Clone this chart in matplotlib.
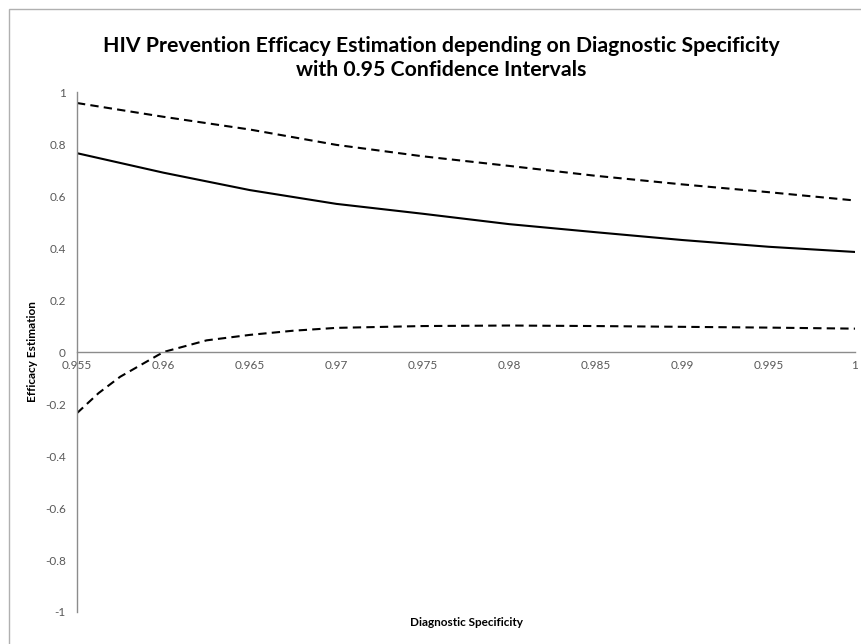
import matplotlib
matplotlib.use("Agg")
import matplotlib.pyplot as plt
from matplotlib.patches import Rectangle

plt.rcParams["font.family"] = ["Lato", "DejaVu Sans"]

# specificity (x) and efficacy estimate with 0.95 CI
spec = [0.955, 0.96, 0.965, 0.97, 0.975, 0.98, 0.985, 0.99, 0.995, 1.0]
efficacy = [0.765, 0.690, 0.623, 0.570, 0.532, 0.492, 0.461, 0.431, 0.405, 0.385]
upper_ci = [0.958, 0.905, 0.856, 0.797, 0.753, 0.716, 0.678, 0.645, 0.615, 0.583]

spec_low = [0.955, 0.95625, 0.9575, 0.96, 0.9625, 0.965, 0.9675, 0.97, 0.975,
            0.98, 0.985, 0.99, 0.995, 1.0]
lower_ci = [-0.235, -0.158, -0.095, 0.0, 0.045, 0.066, 0.082, 0.093, 0.100,
            0.102, 0.100, 0.097, 0.094, 0.090]

xticks = [0.955, 0.96, 0.965, 0.97, 0.975, 0.98, 0.985, 0.99, 0.995, 1]
xlabels = ["0.955", "0.96", "0.965", "0.97", "0.975", "0.98", "0.985", "0.99", "0.995", "1"]
yticks = [-1, -0.8, -0.6, -0.4, -0.2, 0, 0.2, 0.4, 0.6, 0.8, 1]
ylabels = ["-1", "-0.8", "-0.6", "-0.4", "-0.2", "0", "0.2", "0.4", "0.6", "0.8", "1"]

fig = plt.figure(figsize=(8.61, 6.44), dpi=100)
ax = fig.add_axes([0.0894, 0.0497, 0.9036, 0.8073])

ax.plot(spec, efficacy, color="black", lw=1.5)
ax.plot(spec, upper_ci, color="black", lw=1.5, dashes=(4, 2.5))
ax.plot(spec_low, lower_ci, color="black", lw=1.5, dashes=(4, 2.5))

ax.set_xlim(0.955, 1)
ax.set_ylim(-1, 1)

gray = "#8c8c8c"
ax.spines["top"].set_visible(False)
ax.spines["right"].set_visible(False)
ax.spines["bottom"].set_position(("data", 0))
for s in ["left", "bottom"]:
    ax.spines[s].set_color(gray)
    ax.spines[s].set_linewidth(1)

ax.set_xticks(xticks)
ax.set_xticklabels(xlabels)
ax.set_yticks(yticks)
ax.set_yticklabels(ylabels)
ax.tick_params(axis="both", length=0, labelsize=8.5, labelcolor="#595959")
ax.tick_params(axis="x", pad=6)
ax.tick_params(axis="y", pad=8)

ax.set_ylabel("Efficacy Estimation", fontsize=8.5, fontweight="bold")
ax.yaxis.set_label_coords(-0.05, 0.5)
fig.text(466 / 861, 1 - 623 / 644, "Diagnostic Specificity", fontsize=8.5,
         fontweight="bold", ha="center", va="center")

fig.text(441 / 861, 1 - 58 / 644,
         "HIV Prevention Efficacy Estimation depending on Diagnostic Specificity\nwith 0.95 Confidence Intervals",
         fontsize=15.3, fontweight="bold", ha="center", va="center", linespacing=1.2)

# outer chart border
fig.patches.append(Rectangle((9 / 861, -0.1), 1.1, 1 - 9 / 644 + 0.1,
                             transform=fig.transFigure, fill=False,
                             edgecolor="#b0b0b0", lw=1))

fig.savefig("out.png", dpi=100)
